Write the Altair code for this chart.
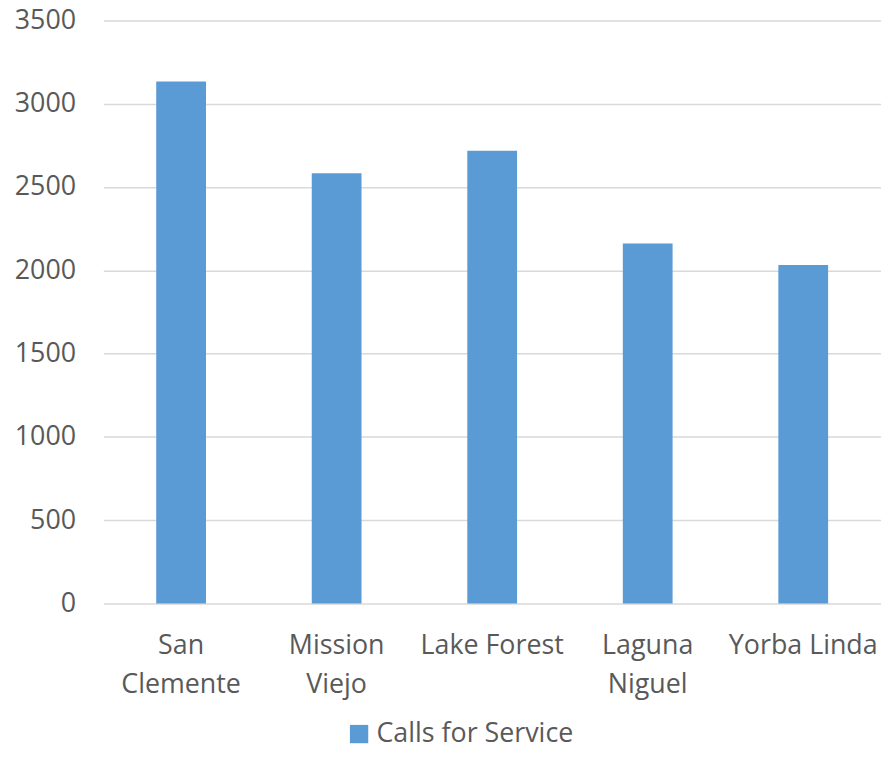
import altair as alt
import pandas as pd

cities = ["San Clemente", "Mission Viejo", "Lake Forest", "Laguna Niguel", "Yorba Linda"]
label_lines = [["San", "Clemente"], ["Mission", "Viejo"], ["Lake Forest"], ["Laguna", "Niguel"], ["Yorba Linda"]]
calls = [3133, 2583, 2718, 2161, 2032]
series_name = "Calls for Service"
y_ticks = [0, 500, 1000, 1500, 2000, 2500, 3000, 3500]

df = pd.DataFrame({"city": cities, "calls": calls, "series": [series_name] * len(cities)})

label_expr = " : ".join(
    f"datum.label == '{c}' ? {lines!r}" for c, lines in zip(cities, label_lines)
) + " : datum.label"

FONT = "Open Sans"
TXT = "#595959"
FS = 27

chart = alt.Chart(df).mark_bar(color="#5b9bd5").encode(
    x=alt.X("city:N", sort=cities, title=None,
            scale=alt.Scale(paddingInner=0.68, paddingOuter=0.34),
            axis=alt.Axis(labelExpr=label_expr, labelAngle=0, labelFont=FONT,
                          labelFontSize=FS, labelColor=TXT, ticks=False, domain=False,
                          labelPadding=29, labelLineHeight=40, labelBaseline="top",
                          labelLimit=300)),
    y=alt.Y("calls:Q", title=None,
            scale=alt.Scale(domain=[0, 3500], nice=False),
            axis=alt.Axis(values=y_ticks, format="d", labelFont=FONT, labelFontSize=FS,
                          labelColor=TXT, ticks=False, domain=False, labelPadding=28,
                          grid=True, gridColor="#d9d9d9", gridWidth=1.5)),
    color=alt.Color("series:N", scale=alt.Scale(range=["#5b9bd5"]),
                    legend=alt.Legend(title=None, orient="none", legendX=244, legendY=705,
                                      symbolType="square", symbolSize=340,
                                      symbolStrokeWidth=0, labelFont=FONT,
                                      labelFontSize=FS, labelColor=TXT, labelOffset=4,
                                      labelLimit=400)),
).properties(
    width=783, height=587,
    background="white",
    autosize=alt.AutoSizeParams(type="none"),
    padding={"left": 96, "top": 10, "right": 0, "bottom": 145},
).configure_view(stroke=None)

chart.save("out.html", embed_options={"renderer": "svg", "actions": False})
